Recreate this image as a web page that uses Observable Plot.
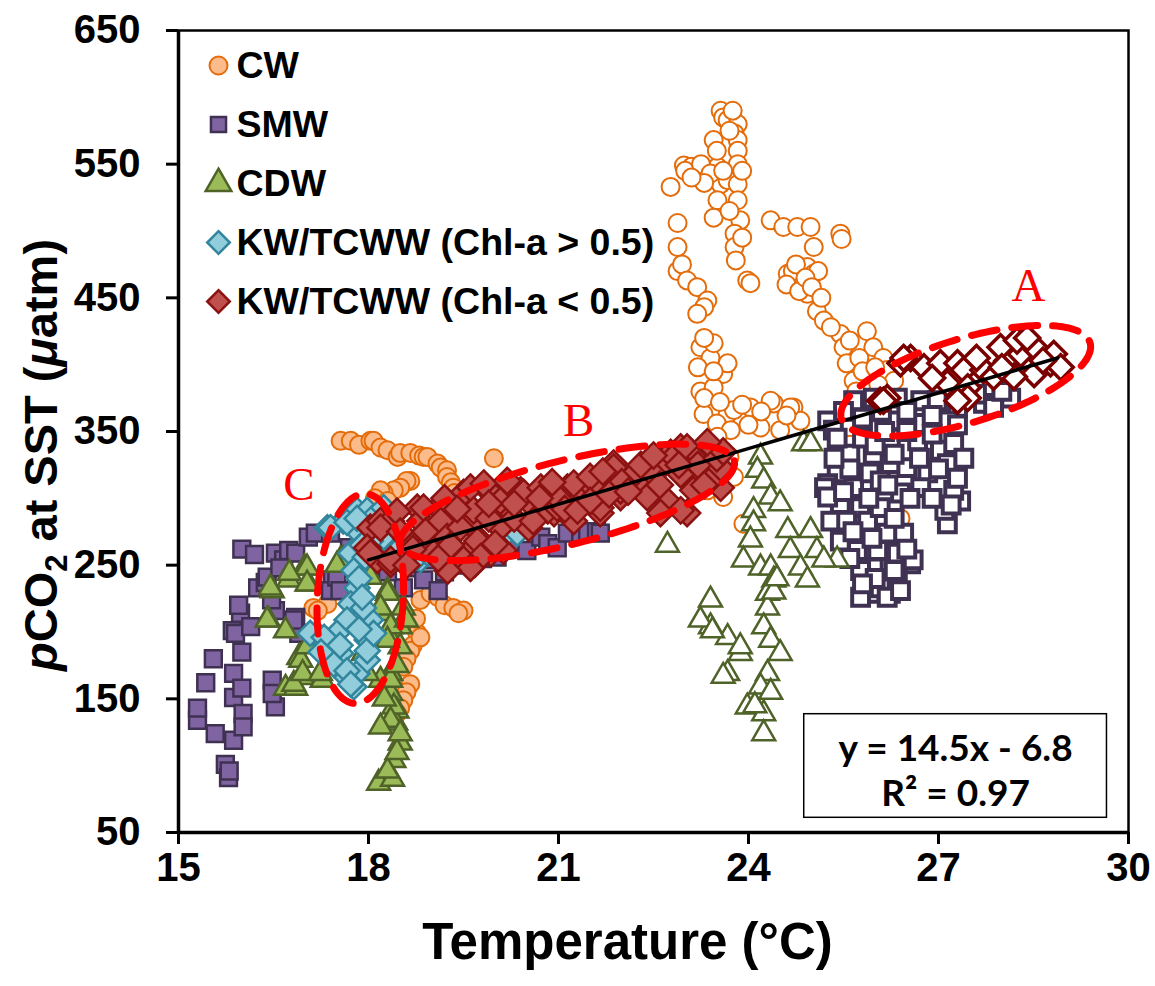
<!DOCTYPE html>
<html>
<head>
<meta charset="utf-8">
<script src="https://cdn.jsdelivr.net/npm/d3@7"></script>
<script src="https://cdn.jsdelivr.net/npm/@observablehq/plot@0.6"></script>
<style>
  html, body { margin: 0; padding: 0; background: #fff; }
  #chart svg [aria-label="x-axis"] line, #chart svg [aria-label="y-axis"] line,
  #chart svg [aria-label="x-axis tick"] path, #chart svg [aria-label="y-axis tick"] path { stroke-width: 3px; stroke: #000; }
</style>
</head>
<body>
<div id="chart"></div>
<script>
// ---------- data (temperature °C, pCO2 µatm) ----------
const xTicks = [15, 18, 21, 24, 27, 30];
const yTicks = [50, 150, 250, 350, 450, 550, 650];

const cwFilled = [[17.56,343],[17.72,343],[17.85,340],[18.03,343],[18.08,343],[18.19,338],[18.3,336],[18.46,331],[18.5,334],[18.66,334],[18.8,332],[18.87,331],[18.93,331],[19.09,326],[19.14,323],[19.24,321],[19.24,316],[19.3,312],[19.34,308],[19.36,304],[18.66,313],[18.6,313],[18.5,308],[18.4,306],[18.24,304],[18.19,306],[18.1,300],[18.3,298],[19.98,330],[18.82,224],[18.98,229],[19.1,226],[19.2,220],[19.34,218],[19.5,216],[19.42,214],[18.55,233],[18.77,199],[18.7,190],[18.66,186],[18.6,180],[18.55,174],[18.66,161],[18.6,155],[18.55,149],[18.5,143],[18.45,139],[18.4,135],[18.82,196],[18.75,210],[17.13,218],[17.35,221],[17.2,216]];
const cwOpen = [[22.77,533],[22.98,549],[23.1,548],[23.19,545],[23.35,540],[23.51,548],[23.56,535],[23.67,538],[23.56,590],[23.6,585],[23.67,583],[23.83,580],[23.78,573],[23.45,568],[23.83,568],[23.83,560],[23.83,550],[23.83,535],[23.83,523],[23.87,508],[23.78,498],[23.78,488],[22.88,506],[22.88,488],[22.88,470],[22.95,475],[23.03,463],[23.19,458],[23.35,448],[23.3,443],[23.19,438],[23.24,413],[23.4,405],[23.6,393],[23.24,380],[23.29,363],[23.51,523],[23.45,510],[23.98,463],[24.03,461],[24.35,508],[24.55,503],[24.77,503],[24.98,503],[25.45,498],[25.47,494],[25.03,488],[24.93,473],[24.62,468],[24.77,463],[25.03,468],[24.93,453],[24.85,460],[24.7,470],[25.08,440],[25.19,433],[25.45,423],[25.5,413],[25.87,425],[25.55,401],[25.66,388],[25.97,413],[26.13,405],[26.19,396],[26.3,388],[23.67,363],[24.03,368],[24.4,371],[24.71,368],[24.82,358],[24.19,353],[24.5,351],[25.87,373],[25.97,351],[23.5,356],[23.45,416],[23.67,401],[23.45,383],[23.77,366],[24.35,373],[24.66,368],[23.72,351],[23.51,346],[23.77,316],[23.92,281],[23.35,306],[23.6,301],[23.7,331],[25.9,380],[26.05,385],[26.2,375],[25.7,365],[25.6,340],[26.4,285],[23.0,545],[23.25,550],[23.4,543],[23.6,545],[23.7,575],[23.5,560],[23.75,590],[23.9,545],[23.3,536],[23.1,540],[23.7,515],[23.9,495],[23.8,478],[24.6,460],[24.8,455],[24.75,475],[25.1,470],[24.9,465],[25.0,458],[25.15,450],[25.3,428],[25.6,418],[25.75,405],[25.8,395],[26.0,398],[25.7,380],[26.1,365],[23.9,370],[24.2,365],[24.6,362],[24.0,355],[23.3,375],[23.55,372],[23.2,398],[23.3,420],[23.45,395]];
const smwFilled = [[15.3,134],[15.3,143],[15.43,162],[15.55,180],[15.58,124],[15.74,101],[15.79,91],[15.8,96],[15.87,119],[15.87,151],[15.87,169],[16.0,158],[16.0,185],[16.02,139],[16.02,129],[15.85,201],[15.9,199],[15.98,214],[15.95,220],[16.14,204],[16.48,164],[16.53,144],[16.48,154],[16.53,216],[16.47,224],[16.85,211],[16.9,199],[16.82,209],[16.25,233],[16.37,237],[16.4,241],[16.53,259],[16.66,254],[16.74,261],[16.85,259],[17.05,271],[17.16,274],[17.4,274],[17.43,239],[17.4,231],[17.5,241],[17.55,231],[17.7,263],[18.0,268],[18.2,262],[18.55,233],[18.7,248],[18.87,239],[18.98,254],[19.1,231],[19.2,245],[19.5,250],[19.8,255],[20.03,256],[20.24,263],[20.5,261],[20.72,271],[20.83,266],[20.98,263],[21.14,274],[21.35,274],[21.46,275],[21.6,275],[21.66,274],[16.0,262],[16.2,258],[16.6,248],[17.9,250],[18.3,245]];
const smwOpen = [[25.25,358],[25.34,351],[25.66,373],[25.97,375],[26.35,375],[26.72,373],[26.98,373],[27.3,368],[27.71,371],[28.14,375],[27.87,368],[26.35,358],[26.72,356],[27.14,358],[26.24,345],[26.67,343],[27.03,336],[27.24,341],[25.97,333],[25.6,333],[25.4,319],[25.25,311],[25.2,308],[25.66,308],[25.92,319],[26.24,326],[26.5,323],[26.83,319],[27.14,326],[27.35,298],[27.24,306],[27.14,281],[27.1,291],[26.72,308],[26.4,304],[26.08,313],[25.77,293],[25.45,296],[25.3,283],[25.55,283],[25.88,283],[26.08,293],[26.19,274],[26.45,274],[26.04,261],[25.72,261],[26.35,259],[26.56,251],[25.97,248],[25.77,246],[26.35,239],[25.92,229],[26.24,229],[26.08,233],[26.6,254],[25.45,268],[25.25,301],[25.77,226],[26.19,226],[26.4,231],[25.5,365],[25.8,360],[26.1,365],[26.5,365],[26.9,362],[27.3,355],[25.4,345],[25.8,345],[26.5,350],[26.9,348],[25.6,322],[26.0,340],[26.3,333],[26.7,330],[27.0,322],[27.3,315],[25.5,305],[25.9,300],[26.2,310],[26.55,300],[26.9,300],[25.65,275],[25.95,270],[26.3,285],[25.6,255],[26.0,240],[25.8,236],[26.5,262],[26.3,246],[27.2,295],[27.4,330],[28.0,380],[27.6,378],[25.35,330],[26.15,350]];
const cdwFilled = [[16.48,231],[16.74,239],[16.99,248],[17.05,236],[16.42,209],[16.69,201],[16.9,181],[16.96,166],[16.69,158],[16.85,158],[17.27,164],[16.45,233],[16.4,209],[16.93,179],[16.82,161],[17.56,254],[18.03,241],[18.3,231],[18.24,214],[18.5,204],[18.3,199],[18.5,189],[18.35,169],[18.35,154],[18.45,141],[18.16,87],[18.38,90],[18.4,104],[18.5,117],[18.43,132],[18.3,96],[18.45,110],[17.03,248],[17.03,236],[17.6,254],[18.3,229],[18.19,218],[18.55,218],[18.35,204],[18.6,209],[18.3,194],[18.19,164],[18.35,164],[18.4,144],[18.35,134],[18.19,129],[18.5,124],[17.03,189],[16.96,169],[17.24,169],[17.92,184],[17.98,169],[16.75,244],[17.5,250],[18.45,175],[18.25,150]];
const cdwOpen = [[24.87,341],[24.98,341],[24.19,331],[24.14,321],[24.24,313],[24.35,301],[24.5,296],[24.08,291],[24.08,281],[24.03,269],[23.92,254],[24.19,248],[24.35,248],[24.4,239],[24.3,229],[24.62,276],[24.66,261],[24.98,276],[25.08,261],[24.82,248],[24.93,239],[25.4,254],[25.19,254],[24.3,218],[24.24,204],[24.35,194],[24.5,184],[24.3,169],[24.19,159],[23.98,144],[24.24,139],[24.24,124],[23.87,184],[23.67,169],[23.4,224],[23.4,204],[23.67,196],[23.87,189],[23.24,209],[22.72,265],[23.43,201],[23.6,167],[24.4,230],[24.45,240],[24.1,145],[24.35,155]];
const kwHighChl = [[17.35,278],[17.6,283],[17.82,291],[17.98,291],[18.08,286],[18.24,293],[17.77,278],[17.72,259],[17.77,246],[17.82,233],[17.72,221],[17.66,209],[17.5,199],[17.24,196],[17.08,199],[17.56,184],[17.45,176],[17.66,166],[17.82,169],[17.98,179],[17.98,194],[18.03,209],[17.92,218],[18.66,259],[18.82,254],[18.5,263],[18.24,271],[18.14,254],[17.77,159],[17.66,171],[17.4,278],[17.66,282],[17.82,285],[18.03,268],[17.3,196],[17.72,161],[17.98,186],[18.08,199],[18.77,256],[18.93,259],[17.85,240],[17.9,226],[17.85,202],[17.55,190],[17.25,185],[20.13,271],[20.35,274],[18.95,266],[17.95,256],[17.9,265]];
const kwLowChlFilled = [[18.03,278],[18.19,283],[17.98,263],[18.14,254],[18.35,251],[18.35,283],[18.77,293],[18.82,283],[19.03,276],[19.1,293],[19.03,259],[18.19,278],[18.03,259],[18.35,254],[18.87,293],[19.14,283],[19.5,304],[19.6,281],[19.77,268],[19.93,304],[20.19,293],[20.4,306],[20.62,293],[20.83,301],[21.14,308],[21.35,301],[21.55,308],[21.87,326],[21.93,313],[22.19,316],[22.4,308],[22.61,323],[22.77,334],[22.93,338],[23.08,318],[23.29,331],[23.45,318],[23.56,308],[22.72,298],[23.03,289],[21.98,301],[21.66,289],[21.24,283],[20.93,289],[20.53,278],[20.08,278],[19.56,259],[19.24,271],[19.93,259],[19.68,251],[19.61,308],[19.82,311],[20.19,313],[20.08,298],[19.66,291],[19.45,278],[19.72,268],[19.77,256],[19.5,254],[20.45,304],[20.72,308],[20.83,291],[20.98,293],[21.24,311],[21.5,316],[21.66,293],[21.87,323],[21.98,306],[22.19,318],[22.4,301],[22.5,318],[22.82,331],[22.93,318],[23.03,338],[23.24,331],[23.4,338],[23.45,316],[23.56,323],[23.13,306],[22.93,291],[22.61,289],[20.13,261],[19.61,248],[19.25,246],[18.6,270],[18.7,262],[18.45,290],[19.3,265],[20.3,285],[21.0,300],[22.0,312],[23.2,325],[18.5,275],[18.9,275],[19.2,300],[19.4,292],[19.9,285],[20.3,296],[20.6,283],[20.7,300],[21.1,292],[21.3,291],[21.5,298],[21.8,303],[22.1,305],[22.3,325],[22.6,310],[22.9,325],[23.3,310],[23.5,330],[23.6,335],[23.35,342],[22.5,332],[21.7,320],[20.9,312],[20.0,266],[19.9,296],[19.1,255],[18.6,250]];
const kwLowChlOpen = [[26.08,373],[26.19,375],[26.56,405],[26.77,398],[27.03,401],[27.3,401],[27.4,396],[27.14,386],[27.46,383],[27.71,396],[27.87,391],[28.09,403],[28.3,408],[28.56,411],[28.77,401],[28.51,393],[28.19,391],[28.82,408],[28.93,398],[27.98,413],[28.24,418],[28.4,420],[27.46,375],[27.3,373],[26.4,401],[26.13,373],[26.45,405],[27.6,405],[26.9,390],[28.65,403],[28.0,398]];

const trendLine = [[18.0,254],[28.88,405]];
const equationLines = ["y = 14.5x - 6.8", "R\u00B2 = 0.97"];
const legendLabels = ["CW", "SMW", "CDW", "KW/TCWW (Chl-a > 0.5)", "KW/TCWW (Chl-a < 0.5)"];

// annotation ellipses: centre in data units, radii/angle in pixels/degrees
const ellipses = [
  {id: "A", t: 27.43, p: 388, rx: 130, ry: 42, angle: -17},
  {id: "B", t: 21.14, p: 297, rx: 172, ry: 42, angle: -14},
  {id: "C", t: 17.87, p: 225, rx: 43, ry: 105, angle: 3}
];
const ellipseLabels = [
  {label: "A", t: 28.42, p: 459},
  {label: "B", t: 21.32, p: 358},
  {label: "C", t: 16.9, p: 310}
];
const eqBox = {t1: 24.88, t2: 29.66, p1: 61, p2: 138.5, tc: 27.27, pLines: [112.5, 79]};

// ---------- layout ----------
const W = 1155, H = 986, ML = 178, MR = 27, MT = 30, MB = 154;
const xDomain = [15, 30], yDomain = [50, 650];
const sx = d3.scaleLinear(xDomain, [ML, W - MR]);
const sy = d3.scaleLinear(yDomain, [H - MB, MT]);
function ellipsePoints(e) {
  const cx = sx(e.t), cy = sy(e.p), th = e.angle * Math.PI / 180;
  return d3.range(0, 145).map(i => {
    const u = i / 144 * 2 * Math.PI;
    const x = e.rx * Math.cos(u), y = e.ry * Math.sin(u);
    return {id: e.id, t: sx.invert(cx + x * Math.cos(th) - y * Math.sin(th)), p: sy.invert(cy + x * Math.sin(th) + y * Math.cos(th))};
  });
}
const ellipsePts = ellipses.flatMap(ellipsePoints);

const diamond = {draw(ctx, size) { const r = Math.sqrt(size / 2); ctx.moveTo(0, -r); ctx.lineTo(r, 0); ctx.lineTo(0, r); ctx.lineTo(-r, 0); ctx.closePath(); }};

const S = {
  cwF:  {symbol: "circle", r: 9, fill: "#FBBB8A", stroke: "#E46C0A", strokeWidth: 2},
  cwO:  {symbol: "circle", r: 9, fill: "#ffffff", stroke: "#E46C0A", strokeWidth: 2},
  smwF: {symbol: "square", r: 9.5, fill: "#8064A2", stroke: "#3F3151", strokeWidth: 2.5},
  smwO: {symbol: "square", r: 9.5, fill: "#ffffff", stroke: "#3F3151", strokeWidth: 4},
  cdwF: {symbol: "triangle", r: 8.5, fill: "#9BBB59", stroke: "#4F6228", strokeWidth: 2.5},
  cdwO: {symbol: "triangle", r: 8.5, fill: "#ffffff", stroke: "#4F6228", strokeWidth: 2.5},
  kwH:  {symbol: diamond, r: 10, fill: "#92CDDC", stroke: "#31859C", strokeWidth: 2.5},
  kwLF: {symbol: diamond, r: 10.5, fill: "#C0504D", stroke: "#8C1212", strokeWidth: 2.5},
  kwLO: {symbol: diamond, r: 10, fill: "#ffffff", stroke: "#7A0000", strokeWidth: 3.5}
};
const dots = (data, s) => Plot.dot(data, {x: d => d[0], y: d => d[1], ...s});

const legendStyles = [
  {...S.cwF, r: 9},
  {...S.smwF, r: 8.5},
  {...S.cdwF, r: 9.5},
  {...S.kwH, r: 9},
  {...S.kwLF, r: 9}
];
const legendMarks = legendLabels.flatMap((label, i) => [
  Plot.dot([label], {frameAnchor: "top-left", dx: 40, dy: 35 + i * 59, ...legendStyles[i]}),
  Plot.text([label], {frameAnchor: "top-left", dx: 58, dy: 35 + i * 59, text: d => d, textAnchor: "start", lineAnchor: "middle", fontSize: 37.5, fontWeight: "bold", fill: "#000"})
]);

const chart = Plot.plot({
  width: W, height: H,
  marginLeft: ML, marginRight: MR, marginTop: MT, marginBottom: MB,
  style: {fontFamily: "'Liberation Sans', Arial, sans-serif", fontSize: "40px", fontWeight: "bold", color: "#000", background: "#fff"},
  x: {domain: xDomain, ticks: xTicks, tickSize: 12, tickPadding: 8, label: null, tickFormat: d => String(d)},
  y: {domain: yDomain, ticks: yTicks, tickSize: 12, tickPadding: 26, label: null, tickFormat: d => String(d)},
  marks: [
    Plot.frame({stroke: "#000", strokeWidth: 2.5}),
    dots(cwFilled, S.cwF),
    dots(cwOpen, S.cwO),
    dots(smwFilled, S.smwF),
    dots(smwOpen, S.smwO),
    dots(cdwFilled, S.cdwF),
    dots(cdwOpen, S.cdwO),
    dots(kwHighChl, S.kwH),
    dots(kwLowChlFilled, S.kwLF),
    dots(kwLowChlOpen, S.kwLO),
    Plot.line(trendLine, {x: d => d[0], y: d => d[1], stroke: "#000", strokeWidth: 3.5}),
    Plot.line(ellipsePts, {x: "t", y: "p", z: "id", stroke: "#FF0000", strokeWidth: 7, strokeDasharray: "26,15", fill: "none"}),
    Plot.text(ellipseLabels, {x: "t", y: "p", text: "label", fill: "#FF0000", fontSize: 47, fontWeight: "normal", fontFamily: "'Liberation Serif', 'Times New Roman', serif"}),
    Plot.rect([eqBox], {x1: "t1", x2: "t2", y1: "p1", y2: "p2", fill: "#fff", stroke: "#000", strokeWidth: 1.5}),
    Plot.text(equationLines, {x: () => eqBox.tc, y: (d, i) => eqBox.pLines[i], text: d => d, fontSize: 37, fontWeight: "bold", fontFamily: "Lato, 'Open Sans', sans-serif", fill: "#000"}),
    Plot.ruleX([xDomain[0]], {stroke: "#000", strokeWidth: 3.5}),
    Plot.ruleY([yDomain[0]], {stroke: "#000", strokeWidth: 3.5}),
    Plot.text(["Temperature (\u00B0C)"], {frameAnchor: "bottom", dx: -26, dy: 126, text: d => d, fontSize: 51, fontWeight: "bold", fill: "#000"}),
    ...legendMarks
  ]
});
document.getElementById("chart").appendChild(chart);

// y-axis title with italic p / subscript 2 / italic mu
const svg = d3.select(chart.tagName.toLowerCase() === "svg" ? chart : chart.querySelector("svg"));
const yt = svg.append("text")
  .attr("transform", "translate(57,455) rotate(-90)")
  .attr("text-anchor", "middle")
  .attr("fill", "#000")
  .style("font-family", "'Liberation Sans', Arial, sans-serif")
  .style("font-size", "47px")
  .style("font-weight", "bold");
yt.append("tspan").style("font-style", "italic").text("p");
yt.append("tspan").text("CO");
yt.append("tspan").attr("dy", 10).style("font-size", "31px").text("2");
yt.append("tspan").attr("dy", -10).text(" at SST (");
yt.append("tspan").style("font-style", "italic").text("\u03BC");
yt.append("tspan").text("atm)");
</script>
</body>
</html>
